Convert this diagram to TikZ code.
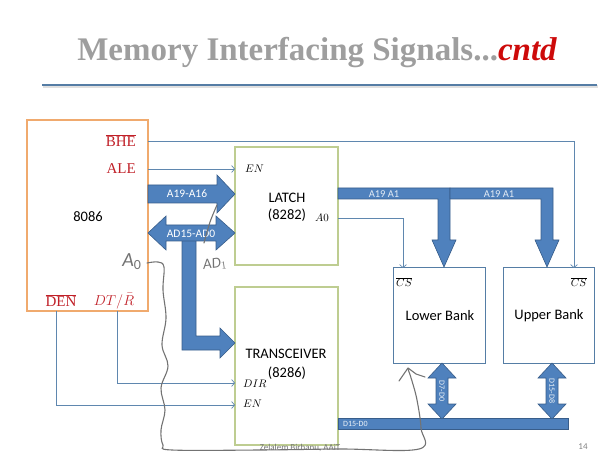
\documentclass[tikz,border=0pt]{standalone}
\usepackage{fontspec}
\setmainfont{Carlito}
\newfontfamily\headfont{Liberation Serif}
\usetikzlibrary{arrows.meta}

\definecolor{cpuedge}{RGB}{240,170,110}
\definecolor{chipedge}{RGB}{190,205,145}
\definecolor{bankedge}{RGB}{85,125,165}
\definecolor{busfill}{RGB}{79,129,189}
\definecolor{busedge}{RGB}{56,93,138}
\definecolor{sigline}{RGB}{95,135,175}
\definecolor{pinred}{RGB}{192,32,40}
\definecolor{titlegray}{RGB}{158,158,158}
\definecolor{titlered}{RGB}{205,10,10}
\definecolor{rulecolor}{RGB}{85,125,165}
\definecolor{penline}{RGB}{115,115,115}

\tikzset{
  box/.style={draw, line width=1.3pt, inner sep=0pt, outer sep=0pt, anchor=north west},
  cpubox/.style={box, draw=cpuedge},
  chipbox/.style={box, draw=chipedge},
  bankbox/.style={box, draw=bankedge, line width=1pt},
  bus/.style={fill=busfill, draw=busedge, line width=0.6pt, line join=miter},
  sig/.style={draw=sigline, line width=0.7pt, -{Straight Barb[length=3pt,width=7pt]}},
  pin/.style={font=\headfont\fontsize{15}{15}\selectfont, text=pinred, inner sep=0pt},
  port/.style={font=\fontsize{11}{11}\selectfont, inner sep=0pt},
  chiptext/.style={font=\fontsize{14.5}{17}\selectfont, align=center, inner sep=0pt},
  buslabel/.style={font=\fontsize{11.5}{12}\selectfont, text=white, inner sep=0pt},
  smalllabel/.style={font=\fontsize{8}{8}\selectfont, text=white!90!busfill, inner sep=0pt},
  pen/.style={draw=penline, line width=1.1pt, line cap=round, line join=round},
  pennote/.style={text=penline, inner sep=0pt, font=\itshape}
}

\begin{document}
\begin{tikzpicture}[x=1pt,y=-1pt]
\useasboundingbox (0,0) rectangle (605,454);

% heading and rule
\node[font=\headfont\bfseries\fontsize{33}{33}\selectfont, text=titlegray] (title) at (317,53)
  {Memory Interfacing Signals...\textcolor{titlered}{\itshape cntd}};
\draw[line width=3pt, draw=black!12] (43,87) -- (598,87);
\draw[line width=2.6pt, draw=rulecolor] (42,85) -- (597,85);

% chips and memory banks
\node[cpubox, minimum width=121pt, minimum height=191pt] (cpu) at (27,120) {};
\node[chipbox, minimum width=103pt, minimum height=118pt] (latch) at (235,147) {};
\node[chipbox, minimum width=103pt, minimum height=158pt] (xcvr) at (235,287) {};
\node[bankbox, minimum width=92pt, minimum height=95pt] (lb) at (393,268) {};
\node[bankbox, minimum width=91pt, minimum height=95pt] (ub) at (503,268) {};

% 8086 pins
\node[chiptext] (cpuname) at (88,217) {8086};
\node[pin, anchor=east] (bhe) at (136,141) {$\overline{\hbox{BHE}}$};
\node[pin, anchor=east] (ale) at (136,169) {ALE};
\node[pin] (den) at (61,301) {$\overline{\hbox{DEN}}$};
\node[pin] (dtr) at (114,301) {$DT/\bar{R}$};

% latch text
\node[port, anchor=west] (len) at (245,169) {$EN$};
\node[chiptext] (latchname) at (287,207) {LATCH\\(8282)};
\node[port, anchor=west] (la0) at (315,218) {$A0$};

% transceiver text
\node[chiptext] (xname) at (286,354) {TRANSCEIVER};
\node[chiptext] (xnum) at (287,373) {(8286)};
\node[port, anchor=west] (xdir) at (243,384) {$DIR$};
\node[port, anchor=west] (xen) at (243,404) {$EN$};

% bank text
\node[port, anchor=west] (lcs) at (396,282) {$\overline{CS}$};
\node[port, anchor=east] (ucs) at (587,282) {$\overline{CS}$};
\node[chiptext] (lbname) at (440,316) {Lower Bank};
\node[chiptext] (ubname) at (549,316) {Upper Bank};

% control lines
\draw[sig] (cpu.east |- bhe) -| ([xshift=-20pt]ub.north east);
\draw[sig] (cpu.east |- ale) -- (latch.west |- ale);
\draw[sig] (latch.east |- la0) -| ([xshift=10pt]lb.north west);
\coordinate (dtrfoot) at (cpu.south -| 117,0);
\coordinate (denfoot) at (cpu.south -| 56,0);
\draw[sig] (dtrfoot) |- (xcvr.west |- 0,383);
\draw[sig] (denfoot) |- (xcvr.west |- 0,405);

% address bus to the latch
\draw[bus] (cpu.east |- 0,185) -- (217,185) -- (217,175) -- (latch.west |- 0,194)
  -- (217,213) -- (217,203) -- (cpu.east |- 0,203) -- cycle;
\node[buslabel] (ahi) at (187,194) {A19-A16};

% multiplexed bus: branch down to the transceiver
\draw[bus] (182,241) -- (182,350) -- (220,350) -- (220,358) -- (xcvr.west |- 0,343)
  -- (220,328) -- (220,336) -- (196,336) -- (196,241);
\draw[bus] (cpu.east |- 0,233) -- (166,216) -- (166,225) -- (216,225) -- (216,216)
  -- (latch.west |- 0,233) -- (216,250) -- (216,241) -- (166,241) -- (166,250) -- cycle;
\node[buslabel] (adlab) at (191,234) {AD15-AD0};

% latched address to both banks
\draw[bus] (latch.east |- 0,188) -- (450,188) -- (450,240) -- (456,240) -- (444,267)
  -- (432,240) -- (438,240) -- (438,199) -- (latch.east |- 0,199) -- cycle;
\draw[bus] (450,188) -- (553,188) -- (553,240) -- (559,240) -- (547,267)
  -- (535,240) -- (541,240) -- (541,199) -- (450,199) -- cycle;
\node[buslabel, font=\fontsize{10.5}{11}\selectfont, text=white!85!busfill] (alab1) at (384,194) {A19 A1};
\node[buslabel, font=\fontsize{10.5}{11}\selectfont, text=white!85!busfill] (alab2) at (499,194) {A19 A1};

% data bus
\draw[bus] (xcvr.east |- 0,418) rectangle (568,429);
\node[smalllabel, anchor=west] (dlab) at (343,424) {D15-D0};
\draw[bus] (442,363) -- (456,378) -- (448,378) -- (448,404) -- (456,404) -- (442,419)
  -- (428,404) -- (436,404) -- (436,378) -- (428,378) -- cycle;
\draw[bus] (552,363) -- (566,378) -- (558,378) -- (558,404) -- (566,404) -- (552,419)
  -- (538,404) -- (546,404) -- (546,378) -- (538,378) -- cycle;
\node[smalllabel, rotate=-90] (dlo) at (442,391) {D7-D0};
\node[smalllabel, rotate=-90] (dhi) at (552,391) {D15-D8};

% pen notes
\node[pennote, font=\itshape\fontsize{20}{20}\selectfont] (pa0) at (132,262) {A$_{\mathrm{0}}$};
\node[pennote, font=\itshape\fontsize{15}{15}\selectfont, rotate=8] (pad1) at (215,264) {AD$_{1}$};
\draw[pen] plot[smooth, tension=0.6] coordinates {(147,263) (158,262) (164,267) (163,290)
  (166,318) (162,345) (168,366) (161,388) (165,410) (161,430) (163,445) (172,450)
  (260,450) (340,449) (419,449) (421,428) (417,400) (412,381) (408,369)};
\draw[pen] (399,381) -- (408,368) -- (416,374) -- (425,377);
\draw[pen] plot[smooth] coordinates {(217,205) (210,222) (204,243)};

% footer
\node[font=\fontsize{9}{9}\selectfont, text=black!55] (author) at (300,448) {Zelalem Birhanu, AAiT};
\node[font=\fontsize{9}{9}\selectfont, text=black!50] (page) at (583,447) {14};
\end{tikzpicture}
\end{document}
